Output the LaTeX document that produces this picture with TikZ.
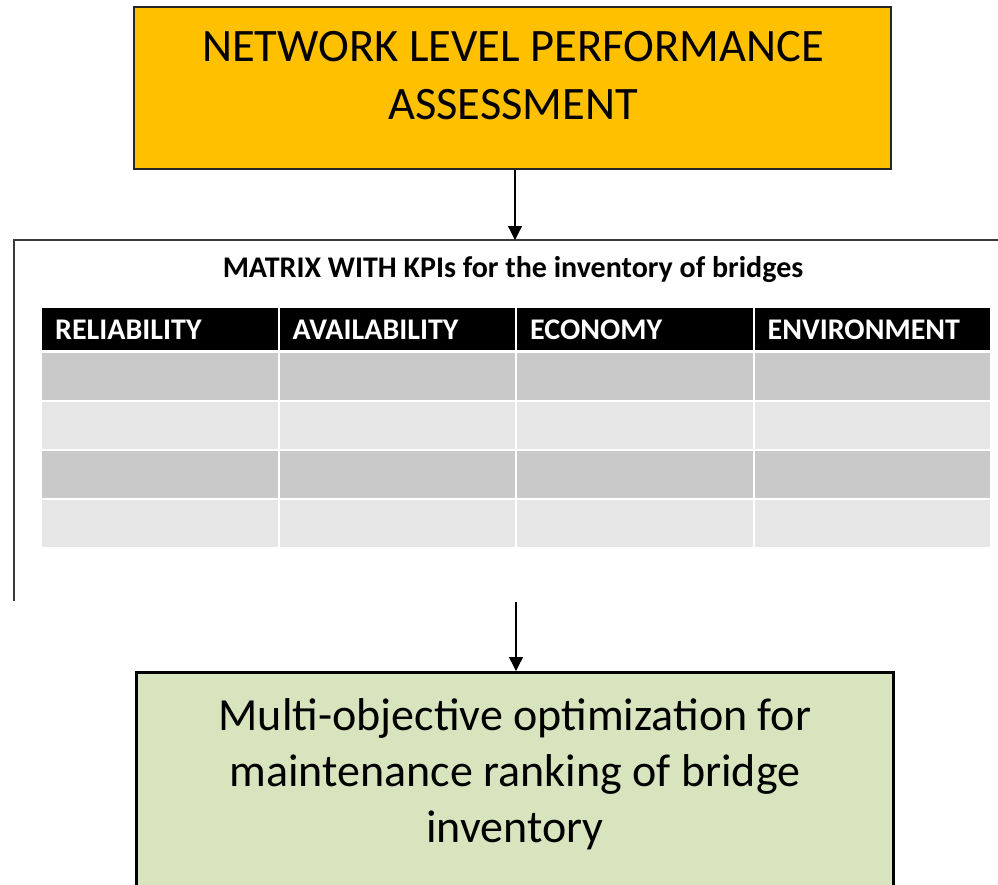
\documentclass[tikz,border=0pt]{standalone}
\usepackage{fontspec}
\setmainfont{Carlito}
\usetikzlibrary{arrows.meta}
\definecolor{topfill}{HTML}{FFC000}
\definecolor{botfill}{HTML}{D7E4BD}
\definecolor{rowdark}{HTML}{C9C9C9}
\definecolor{rowlight}{HTML}{E6E6E6}
\definecolor{framegray}{HTML}{3A3A3A}
\tikzset{
  topbox/.style={draw=black!85, line width=2pt, fill=topfill, minimum width=757pt, minimum height=162pt, inner sep=0pt},
  botbox/.style={draw=black, line width=3pt, fill=botfill, minimum width=757pt, minimum height=240pt, inner sep=0pt, anchor=north},
  frameline/.style={draw=framegray, line width=2pt},
  conn/.style={draw=black, line width=1.3pt, -{Triangle[width=14pt,length=14pt]}},
  headcell/.style={fill=black, minimum width=235.5pt, minimum height=42pt, inner sep=0pt, anchor=north west},
  darkcell/.style={fill=rowdark, minimum width=235.5pt, minimum height=47pt, inner sep=0pt, anchor=north west},
  lightcell/.style={fill=rowlight, minimum width=235.5pt, minimum height=47pt, inner sep=0pt, anchor=north west},
  headtext/.style={text=white, font=\fontsize{30}{34}\selectfont\bfseries, anchor=base west, inner sep=0pt},
  bigtext/.style={align=center, inner sep=0pt},
}
\begin{document}
\begin{tikzpicture}[x=1pt,y=-1pt]
\useasboundingbox (0,0) rectangle (998,884);
% top box
\node[topbox] (top) at (512.5,88) {};
\node[bigtext, font=\fontsize{46.5}{58}\selectfont, anchor=north] (toptext) at (513,31) {NETWORK LEVEL PERFORMANCE\\ASSESSMENT};
% matrix frame
\coordinate (fl) at (14,240);
\coordinate (fr) at (999,240);
\coordinate (fb) at (14,601);
\coordinate (fin) at (515,240);
\draw[frameline] (fr) -- (fl) -- (fb);
\node[font=\fontsize{30}{34}\selectfont\bfseries, anchor=base, inner sep=0pt] (mtitle) at (513,277) {MATRIX WITH KPIs for the inventory of bridges};
% table
\foreach \i/\name in {0/RELIABILITY,1/AVAILABILITY,2/ECONOMY,3/ENVIRONMENT}{
  \pgfmathsetmacro{\xl}{42+\i*237.5}
  \node[headcell] (h\i) at (\xl,308) {};
  \node[headtext] (ht\i) at (\xl+13,339) {\name};
  \node[darkcell] (ra\i) at (\xl,352.5) {};
  \node[lightcell] (rb\i) at (\xl,401.5) {};
  \node[darkcell] (rc\i) at (\xl,450.5) {};
  \node[lightcell] (rd\i) at (\xl,499.5) {};
}
% bottom box
\node[botbox] (bot) at (514.5,671) {};
\node[bigtext, font=\fontsize{46}{56}\selectfont, anchor=north] (bottext) at (515,698) {Multi-objective optimization for\\maintenance ranking of bridge\\inventory};
% connectors
\draw[conn] (top.south -| fin) -- (fin);
\coordinate (sout) at (516,602);
\draw[conn] (sout) -- (sout |- bot.north);
\end{tikzpicture}
\end{document}
